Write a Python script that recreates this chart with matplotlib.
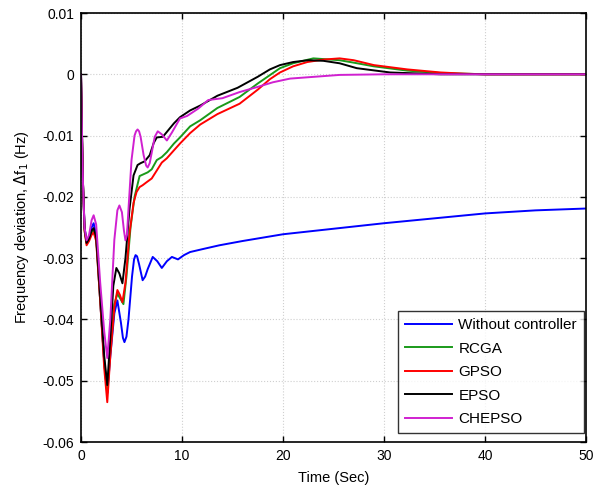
import matplotlib
matplotlib.use("Agg")
import matplotlib.pyplot as plt

plt.rcParams['font.family'] = ['Liberation Sans', 'DejaVu Sans']

labels = ["Without controller", "RCGA", "GPSO", "EPSO", "CHEPSO"]
colors = ["#0000ff", "#1a9a1a", "#ff0000", "#000000", "#d020d0"]

t_blue = [0, 0.1, 0.2, 0.35, 0.55, 0.8, 1.05, 1.25, 1.5, 1.9, 2.3, 2.6, 2.9, 3.3, 3.6, 3.95, 4.15,
          4.3, 4.5, 4.7, 5.05, 5.25, 5.4, 5.55, 5.75, 6.1, 6.35, 6.6, 7.1, 7.55, 8.0, 8.5, 9.0, 9.6,
          10.2, 10.8, 12.1, 13.7, 16, 20, 25, 30, 35, 40, 45, 50]
f_blue = [0, -0.010, -0.018, -0.025, -0.0273, -0.0265, -0.0250, -0.0243, -0.0262, -0.037, -0.047,
          -0.052, -0.046, -0.039, -0.0369, -0.0405, -0.0430, -0.0437, -0.0428, -0.040, -0.033,
          -0.0302, -0.0295, -0.0297, -0.0310, -0.0336, -0.0330, -0.0318, -0.0298, -0.0305, -0.0316,
          -0.0305, -0.0298, -0.0302, -0.0295, -0.0290, -0.0285, -0.0279, -0.0272, -0.0261, -0.0252,
          -0.0243, -0.0235, -0.0227, -0.0222, -0.0219]

t_green = [0, 0.1, 0.2, 0.35, 0.55, 0.8, 1.05, 1.25, 1.5, 1.9, 2.3, 2.6, 2.9, 3.3, 3.6, 3.85, 4.2,
           4.5, 4.9, 5.3, 5.8, 6.2, 6.6, 7.0, 7.5, 8.0, 8.5, 9.2, 9.8, 10.8, 11.8, 13.5, 15.7, 17.5,
           19.7, 21, 23, 25.6, 27, 29, 32.3, 35.6, 38, 40, 50]
f_green = [0, -0.010, -0.018, -0.0255, -0.0276, -0.0268, -0.0258, -0.0254, -0.0268, -0.037, -0.047,
           -0.052, -0.045, -0.0375, -0.0358, -0.0365, -0.0375, -0.033, -0.025, -0.020, -0.0166,
           -0.0163, -0.0160, -0.0155, -0.0140, -0.0135, -0.0127, -0.0113, -0.0103, -0.0085, -0.0075,
           -0.0055, -0.0037, -0.0015, 0.0010, 0.0018, 0.0026, 0.0023, 0.0019, 0.0013, 0.0006, 0.0002,
           0.0001, 0, 0]

t_red = [0, 0.1, 0.2, 0.35, 0.55, 0.8, 1.05, 1.25, 1.5, 1.9, 2.3, 2.6, 2.9, 3.3, 3.6, 3.85, 4.1,
         4.4, 4.8, 5.2, 5.5, 5.8, 6.1, 6.5, 7.0, 7.5, 8.0, 8.5, 9.2, 9.8, 10.8, 11.8, 13.5, 15.7,
         17.5, 18.7, 19.7, 21, 22.4, 24, 25.6, 27, 29, 32.3, 35.6, 38, 40, 50]
f_red = [0, -0.010, -0.018, -0.0255, -0.0279, -0.0272, -0.0262, -0.0258, -0.0272, -0.037, -0.048,
         -0.0535, -0.046, -0.038, -0.0352, -0.0360, -0.0372, -0.034, -0.026, -0.021, -0.0192,
         -0.0184, -0.0181, -0.0176, -0.0170, -0.0157, -0.0144, -0.0137, -0.0124, -0.0113, -0.0096,
         -0.0082, -0.0065, -0.0048, -0.0025, -0.0008, 0.0003, 0.0013, 0.0020, 0.0024, 0.0026,
         0.0023, 0.0015, 0.0008, 0.0003, 0.0001, 0, 0]

t_black = [0, 0.1, 0.2, 0.35, 0.55, 0.8, 1.05, 1.25, 1.5, 1.9, 2.3, 2.6, 2.9, 3.2, 3.5, 3.8, 4.1,
           4.4, 4.8, 5.2, 5.6, 5.9, 6.3, 6.8, 7.2, 7.5, 8.1, 8.6, 9.2, 9.8, 10.8, 11.8, 13.5, 15.5,
           17.5, 18.7, 19.7, 21, 22.5, 24, 25.6, 27.3, 30.6, 35.6, 40, 50]
f_black = [0, -0.010, -0.018, -0.025, -0.0275, -0.0268, -0.0255, -0.0251, -0.0265, -0.036, -0.046,
           -0.0507, -0.043, -0.0345, -0.0316, -0.0325, -0.0341, -0.030, -0.022, -0.0165, -0.0148,
           -0.0145, -0.0142, -0.0132, -0.0112, -0.0103, -0.0102, -0.0092, -0.0080, -0.0070, -0.0059,
           -0.0051, -0.0035, -0.0022, -0.0004, 0.0008, 0.0015, 0.0020, 0.0023, 0.0022, 0.0018,
           0.0010, 0.0003, 0.0, 0, 0]

t_mag = [0, 0.1, 0.2, 0.35, 0.55, 0.8, 1.05, 1.25, 1.5, 1.9, 2.3, 2.6, 2.9, 3.3, 3.6, 3.8, 4.05,
         4.25, 4.4, 4.55, 4.7, 5.0, 5.3, 5.45, 5.6, 5.75, 5.9, 6.2, 6.45, 6.6, 6.8, 7.0, 7.3, 7.6,
         8.0, 8.5, 9.0, 9.8, 10.5, 11.6, 12.6, 14.0, 15.7, 17.4, 19.0, 20.7, 25.6, 30, 35, 40, 50]
f_mag = [0, -0.010, -0.018, -0.025, -0.0271, -0.0262, -0.0238, -0.0230, -0.0245, -0.034, -0.042,
         -0.0463, -0.040, -0.027, -0.0222, -0.0214, -0.0225, -0.0255, -0.0271, -0.0262, -0.022,
         -0.014, -0.010, -0.0093, -0.0090, -0.0093, -0.0102, -0.0132, -0.0149, -0.0152, -0.0145,
         -0.0128, -0.0102, -0.0093, -0.0098, -0.0108, -0.0095, -0.0072, -0.0068, -0.0056, -0.0042,
         -0.0039, -0.0029, -0.0021, -0.0013, -0.0007, -0.0001, 0, 0, 0, 0]

x_ticks = [0, 10, 20, 30, 40, 50]
y_ticks = [-0.06, -0.05, -0.04, -0.03, -0.02, -0.01, 0, 0.01]
y_ticklabels = ["-0.06", "-0.05", "-0.04", "-0.03", "-0.02", "-0.01", "0", "0.01"]

fig = plt.figure(figsize=(5.97, 4.93), dpi=100)
ax = fig.add_axes([0.1357, 0.1034, 0.8459, 0.8702])

series = [(t_blue, f_blue), (t_green, f_green), (t_red, f_red), (t_black, f_black), (t_mag, f_mag)]
for (t, f), lab, c in zip(series, labels, colors):
    ax.plot(t, f, color=c, lw=1.4, label=lab)

ax.set_xlim(0, 50)
ax.set_ylim(-0.06, 0.01)
ax.set_xticks(x_ticks)
ax.set_yticks(y_ticks)
ax.set_yticklabels(y_ticklabels)
ax.grid(True, linestyle=':', color='#cfcfcf', lw=0.8)
ax.tick_params(direction='in', top=True, right=True, length=4, labelsize=10, width=1, pad=5)
for s in ax.spines.values():
    s.set_linewidth(1.2)
ax.set_xlabel("Time (Sec)", fontsize=10.5, labelpad=6)
ax.set_ylabel(r"Frequency deviation, $\Delta$f$_1$ (Hz)", fontsize=10.5, labelpad=8)

leg = ax.legend(loc='lower right', bbox_to_anchor=(0.996, 0.021), borderaxespad=0,
                fontsize=11, frameon=True, fancybox=False, edgecolor='black',
                handlelength=3.1, handletextpad=0.4, labelspacing=0.62, borderpad=0.45)
leg.get_frame().set_linewidth(1.0)

fig.savefig("out.png", dpi=100)
